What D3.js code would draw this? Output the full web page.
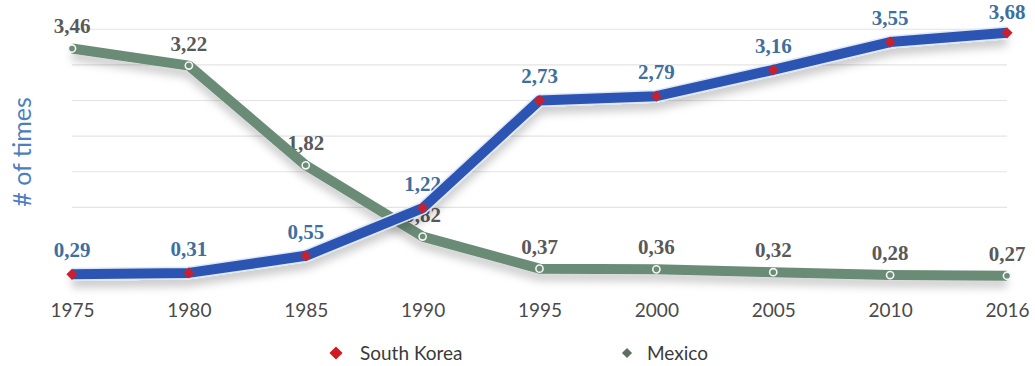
<!DOCTYPE html>
<html>
<head>
<meta charset="utf-8">
<script src="https://cdn.jsdelivr.net/npm/d3@7"></script>
<style>
  html, body { margin: 0; padding: 0; background: #fff; }
  svg { display: block; }
</style>
</head>
<body>
<svg id="chart" width="1035" height="366"></svg>
<script>
// Years on the horizontal axis
const years = ["1975", "1980", "1985", "1990", "1995", "2000", "2005", "2010", "2016"];
// Series values (# of times)
const southKorea = [0.29, 0.31, 0.55, 1.22, 2.73, 2.79, 3.16, 3.55, 3.68];
const mexico = [3.46, 3.22, 1.82, 0.82, 0.37, 0.36, 0.32, 0.28, 0.27];
// Horizontal gridline levels
const gridValues = [1.23, 1.73, 2.23, 2.73, 3.23, 3.73];
const seriesNames = ["South Korea", "Mexico"];

const svg = d3.select("#chart");

const x = d3.scalePoint().domain(years).range([72, 1007]);
const y = d3.scaleLinear().domain([0, 4]).range([295, 10]);

const fmt = v => d3.format(".2f")(v).replace(".", ",");

// Soft shadow under the thick lines
const defs = svg.append("defs");
const shadow = defs.append("filter").attr("id", "shadow")
  .attr("x", "-10%").attr("y", "-30%").attr("width", "120%").attr("height", "180%");
shadow.append("feDropShadow")
  .attr("dx", 0).attr("dy", 7).attr("stdDeviation", 4.5)
  .attr("flood-color", "#000").attr("flood-opacity", 0.2);

// Gridlines
svg.append("g").selectAll("line").data(gridValues).join("line")
  .attr("x1", x(years[0])).attr("x2", x(years[years.length - 1]))
  .attr("y1", d => y(d)).attr("y2", d => y(d))
  .attr("stroke", "#e4e4e4").attr("stroke-width", 1.2);

// Year labels
const xAxis = d3.axisBottom(x).tickSize(0).tickPadding(0);
const gx = svg.append("g").attr("transform", "translate(0,303)").call(xAxis);
gx.select(".domain").remove();
gx.selectAll("text")
  .attr("font-family", "Lato, 'Open Sans', sans-serif")
  .attr("font-size", 19).attr("fill", "#4a4a4a")
  .attr("dy", "0.71em");

// Y axis title
svg.append("text")
  .attr("transform", "translate(31,152) rotate(-90)")
  .attr("text-anchor", "middle")
  .attr("font-family", "Lato, 'Open Sans', sans-serif")
  .attr("font-size", 25).attr("fill", "#4a80c0")
  .text("# of times");

const line = d3.line().x((d, i) => x(years[i])).y(d => y(d));
const labelFont = "'Liberation Serif', 'DejaVu Serif', serif";

// Value labels sit beneath the lines; keep them inside the top edge
svg.append("g").selectAll("text").data(mexico).join("text")
  .attr("x", (d, i) => x(years[i])).attr("y", d => Math.max(y(d) - 15, 19))
  .attr("text-anchor", "middle")
  .attr("font-family", labelFont).attr("font-weight", "bold")
  .attr("font-size", 21).attr("fill", "#595959")
  .text(d => fmt(d));
svg.append("g").selectAll("text").data(southKorea).join("text")
  .attr("x", (d, i) => x(years[i])).attr("y", d => Math.max(y(d) - 17, 19))
  .attr("text-anchor", "middle")
  .attr("font-family", labelFont).attr("font-weight", "bold")
  .attr("font-size", 21).attr("fill", "#3d6f9f")
  .text(d => fmt(d));

// Mexico
svg.append("path").datum(mexico)
  .attr("d", line).attr("fill", "none")
  .attr("stroke", "#6b8c77").attr("stroke-width", 10)
  .attr("stroke-linejoin", "round")
  .attr("filter", "url(#shadow)");
svg.append("g").selectAll("circle").data(mexico).join("circle")
  .attr("cx", (d, i) => x(years[i])).attr("cy", d => y(d))
  .attr("r", 3.6).attr("fill", "#6b8c77")
  .attr("stroke", "#f4f4f4").attr("stroke-width", 1.6);

// South Korea
svg.append("path").datum(southKorea)
  .attr("d", line).attr("fill", "none")
  .attr("stroke", "#dfe8f6").attr("stroke-width", 13)
  .attr("stroke-linejoin", "round")
  .attr("filter", "url(#shadow)");
svg.append("path").datum(southKorea)
  .attr("d", line).attr("fill", "none")
  .attr("stroke", "#2c55b3").attr("stroke-width", 10)
  .attr("stroke-linejoin", "round");
svg.append("g").selectAll("path").data(southKorea).join("path")
  .attr("transform", (d, i) => `translate(${x(years[i])},${y(d)})`)
  .attr("d", d3.symbol(d3.symbolDiamond2, 80))
  .attr("fill", "#c8202e");

// Legend
const legendColors = ["#d01a22", "#5f6e62"];
const legendX = [336, 627];
const legend = svg.append("g").selectAll("g").data(seriesNames).join("g")
  .attr("transform", (d, i) => `translate(${legendX[i]},353)`);
legend.append("path")
  .attr("d", (d, i) => d3.symbol(d3.symbolDiamond2, i === 0 ? 110 : 65)())
  .attr("fill", (d, i) => legendColors[i]);
legend.append("text")
  .attr("x", (d, i) => i === 0 ? 24 : 20).attr("dy", "0.35em")
  .attr("font-family", "Lato, 'Open Sans', sans-serif")
  .attr("font-size", 19).attr("fill", "#3a3a3a")
  .text(d => d);
</script>
</body>
</html>
